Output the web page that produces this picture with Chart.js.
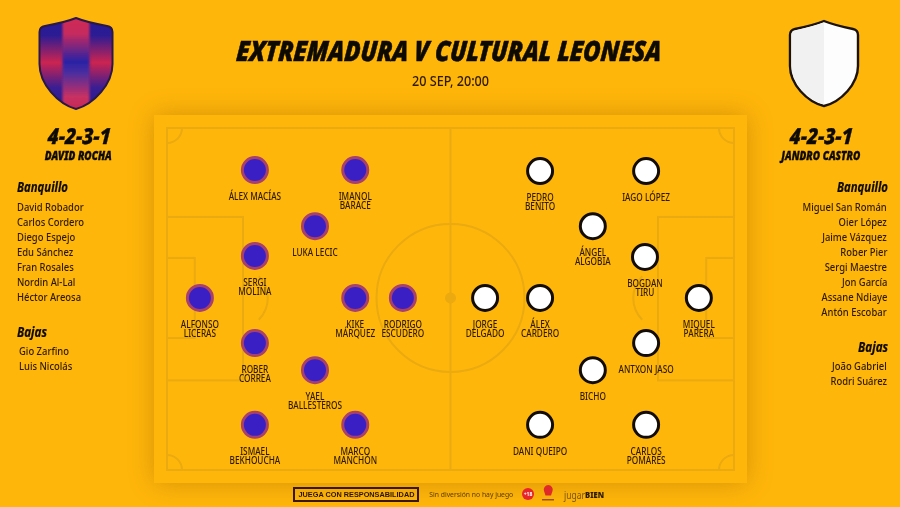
<!DOCTYPE html>
<html lang="es"><head><meta charset="utf-8">
<title>Extremadura v Cultural Leonesa</title>
<script src="https://cdn.jsdelivr.net/npm/chart.js@4"></script>
<style>
html,body{margin:0;padding:0;width:900px;height:507px;overflow:hidden;background:#ffb60a;font-family:"Noto Sans",sans-serif;color:#2e1a00}
#pitch{position:absolute;left:154px;top:115px;width:593px;height:368px;background:#ffb60a;box-shadow:0 0 24px rgba(120,70,0,.32)}
#c{position:absolute;left:0;top:0;width:900px;height:507px}
.t{position:absolute;white-space:nowrap;line-height:1}
.blk{color:#0d0a00;font-weight:900;font-style:italic;-webkit-text-stroke:.35px #0d0a00}
svg{position:absolute}
</style></head><body>
<div id="pitch"></div>
<svg width="900" height="507" style="left:0;top:0">
<defs>
<linearGradient id="side" gradientUnits="userSpaceOnUse" x1="0" y1="17" x2="0" y2="110"><stop offset="0" stop-color="#241a96"/><stop offset=".2" stop-color="#2c1c94"/><stop offset=".49" stop-color="#cc2450"/><stop offset=".76" stop-color="#3a1e92"/><stop offset="1" stop-color="#241a96"/></linearGradient>
<linearGradient id="mid" gradientUnits="userSpaceOnUse" x1="0" y1="17" x2="0" y2="110"><stop offset="0" stop-color="#d02a55"/><stop offset=".18" stop-color="#c62a5e"/><stop offset=".48" stop-color="#2a22a5"/><stop offset=".6" stop-color="#4a2ea0"/><stop offset=".86" stop-color="#c83062"/><stop offset="1" stop-color="#c82a55"/></linearGradient>
<filter id="soft" x="-20%" y="-5%" width="140%" height="110%"><feGaussianBlur stdDeviation="1.1 0"/></filter>
<clipPath id="sh"><path d="M76 18 C86 22 96 24 107 26 Q112.5 27 112.5 32 L112.5 64 C112.5 84 94 104 76 109 C58 104 39.5 84 39.5 64 L39.5 32 Q39.5 27 45 26 C56 24 66 22 76 18Z"/></clipPath>
</defs>
<g clip-path="url(#sh)"><rect x="36" y="14" width="80" height="98" fill="url(#side)"/><rect x="62.5" y="10" width="27" height="106" fill="url(#mid)" filter="url(#soft)"/></g>
<path d="M76 18 C86 22 96 24 107 26 Q112.5 27 112.5 32 L112.5 64 C112.5 84 94 104 76 109 C58 104 39.5 84 39.5 64 L39.5 32 Q39.5 27 45 26 C56 24 66 22 76 18Z" fill="none" stroke="#2a1848" stroke-width="2"/>
<path d="M824 21 C834 25 843 27 853 29 Q858 30 858 35 L858 66 C858 84 841 102 824 106 C807 102 790 84 790 66 L790 35 Q790 30 795 29 C805 27 814 25 824 21Z" fill="#fdfdfd" stroke="#1c1208" stroke-width="2.4"/>
<path d="M824 22.5 C814 26 805 28 795 30.5 Q791.5 31 791.5 35 L791.5 66 C791.5 83 808 100 824 104.5Z" fill="#f1f1f1"/>
<circle cx="528" cy="494" r="6" fill="#e8232a"/>
<path d="M544 491 a4.5 4.5 0 1 1 8.5 0 l-1.5 4.5 h-5.5 z" fill="#e02a2a"/><rect x="542" y="499" width="12" height="1.5" fill="#a05020"/>
</svg>
<canvas id="c" width="900" height="507"></canvas>
<div id="texts"></div>
<script>
const homeNames=["ÁLEX MACÍAS","IMANOL\nBARACE","LUKA LECIC","SERGI\nMOLINA","ALFONSO\nLICERAS","KIKE\nMÁRQUEZ","RODRIGO\nESCUDERO","ROBER\nCORREA","YAEL\nBALLESTEROS","ISMAEL\nBEKHOUCHA","MARCO\nMANCHÓN"];
const homeX=[15.5,33.2,26.1,15.5,5.8,33.2,41.6,15.5,26.1,15.5,33.2];
const homeY=[12.3,12.3,28.7,37.4,49.7,49.7,49.7,62.9,70.8,86.8,86.8];
const awayNames=["PEDRO\nBENITO","IAGO LÓPEZ","ÁNGEL\nALGOBIA","BOGDAN\nTIRU","MIQUEL\nPARERA","JORGE\nDELGADO","ÁLEX\nCARDERO","ANTXON JASO","BICHO","DANI QUEIPO","CARLOS\nPOMARES"];
const awayX=[65.8,84.5,75.1,84.3,93.8,56.1,65.8,84.5,75.1,65.8,84.5];
const awayY=[12.6,12.6,28.7,37.7,49.7,49.7,49.7,62.9,70.8,86.8,86.8];
const homeBench=["David Robador","Carlos Cordero","Diego Espejo","Edu Sánchez","Fran Rosales","Nordin Al-Lal","Héctor Areosa"];
const homeOut=["Gio Zarfino","Luis Nicolás"];
const awayBench=["Miguel San Román","Oier López","Jaime Vázquez","Rober Pier","Sergi Maestre","Jon García","Assane Ndiaye","Antón Escobar"];
const awayOut=["João Gabriel","Rodri Suárez"];

const pitchColor="#eaaa10";
const pitchPlugin={id:"pitch",beforeDatasetsDraw(ch){
  const c=ch.ctx,X=ch.scales.x,Y=ch.scales.y;
  const px=v=>X.getPixelForValue(v),py=v=>Y.getPixelForValue(v);
  c.save();c.strokeStyle=pitchColor;c.lineWidth=2;
  const box=(x0,y0,x1,y1)=>c.strokeRect(px(x0),py(y0),px(x1)-px(x0),py(y1)-py(y0));
  box(0,0,100,100);
  box(0,26,13.4,73.8);box(86.6,26,100,73.8);
  box(0,38,4.9,61.4);box(95.1,38,100,61.4);
  c.beginPath();c.moveTo(px(50),py(0));c.lineTo(px(50),py(100));c.stroke();
  const cy=py(49.7);
  c.beginPath();c.arc(px(50),cy,74,0,Math.PI*2);c.stroke();
  c.fillStyle=pitchColor;c.beginPath();c.arc(px(50),cy,5.5,0,Math.PI*2);c.fill();
  c.beginPath();c.arc(px(12.3),cy,31,-0.78,0.78);c.stroke();
  c.beginPath();c.arc(px(87.7),cy,31,Math.PI-0.78,Math.PI+0.78);c.stroke();
  [[0,0,0],[100,0,Math.PI/2],[100,100,Math.PI],[0,100,-Math.PI/2]].forEach(a=>{
    c.beginPath();c.arc(px(a[0]),py(a[1]),15,a[2],a[2]+Math.PI/2);c.stroke();});
  c.restore();
}};
const labelPlugin={id:"names",afterDatasetsDraw(ch){
  const c=ch.ctx;c.save();c.textAlign="center";c.textBaseline="middle";c.fillStyle="#2e1a00";
  c.font='500 11px "Noto Sans"';
  ch.data.datasets.forEach((ds,i)=>{ch.getDatasetMeta(i).data.forEach((el,j)=>{
    ds.names[j].split("\n").forEach((ln,k)=>{
      c.save();c.translate(el.x,el.y+27+k*9);c.scale(.75,1);c.fillText(ln,0,0);c.restore();
    });
  });});
  c.restore();
}};
const pts=(xs,ys)=>xs.map((x,i)=>({x,y:ys[i]}));
new Chart(document.getElementById("c"),{type:"scatter",
  data:{datasets:[
    {label:"Extremadura",names:homeNames,data:pts(homeX,homeY),backgroundColor:"#3a20c4",borderColor:"#a8406a",borderWidth:3,pointRadius:12.5,pointHoverRadius:12.5},
    {label:"Cultural Leonesa",names:awayNames,data:pts(awayX,awayY),backgroundColor:"#ffffff",borderColor:"#120c04",borderWidth:3,pointRadius:12.5,pointHoverRadius:12.5}
  ]},
  options:{responsive:false,animation:false,devicePixelRatio:1,clip:false,
    layout:{padding:{left:167,right:166,top:128,bottom:37}},
    plugins:{legend:{display:false},tooltip:{enabled:false}},
    scales:{x:{type:"linear",min:0,max:100,display:false},y:{type:"linear",min:0,max:100,reverse:true,display:false}}},
  plugins:[pitchPlugin,labelPlugin]});

const host=document.getElementById("texts");
function put(txt,o){
  const d=document.createElement("div");d.className="t "+(o.cls||"");d.textContent=txt;
  d.style.cssText=`font-size:${o.size}px;left:0;top:0;`+(o.css||"");
  host.appendChild(d);
  const r=d.getBoundingClientRect(),w=r.width,h=r.height;
  const k=o.w?o.w/w:(o.k||1);
  d.style.top=(o.y-h/2)+"px";
  const left=o.a==="l"?o.x:o.a==="r"?o.x-w:o.x-w/2;
  d.style.left=left+"px";
  d.style.transformOrigin=o.a==="l"?"left center":o.a==="r"?"right center":"center center";
  d.style.transform=`scaleX(${k})`+(o.skew?` skewX(${o.skew}deg)`:"");
}
const listK=.82;
const heading="font-weight:700;-webkit-text-stroke:.2px #0d0a00";
const item="font-weight:500";
put("EXTREMADURA V CULTURAL LEONESA",{a:"m",x:449.5,y:50,size:28,w:425,cls:"blk",skew:-5,css:"-webkit-text-stroke:.55px #0d0a00"});
put("20 SEP, 20:00",{a:"m",x:450.5,y:81,size:14,w:77,css:"font-weight:500"});
put("4-2-3-1",{a:"m",x:79,y:135,size:22,w:63,cls:"blk",skew:-4});
put("DAVID ROCHA",{a:"m",x:78.5,y:156,size:12,w:67,cls:"blk"});
put("4-2-3-1",{a:"m",x:821,y:135,size:22,w:63,cls:"blk",skew:-4});
put("JANDRO CASTRO",{a:"m",x:820.5,y:156,size:12,w:79,cls:"blk"});
const row=15;
put("Banquillo",{a:"l",x:17,y:187,size:14,w:51,cls:"blk",css:heading});
homeBench.forEach((n,i)=>put(n,{a:"l",x:17,y:206.5+i*row,size:11.5,k:listK,css:item}));
put("Bajas",{a:"l",x:17,y:332,size:14,w:30,cls:"blk",css:heading});
homeOut.forEach((n,i)=>put(n,{a:"l",x:19,y:350.5+i*row,size:11.5,k:listK,css:item}));
put("Banquillo",{a:"r",x:888,y:187,size:14,w:51,cls:"blk",css:heading});
awayBench.forEach((n,i)=>put(n,{a:"r",x:887,y:206.5+i*row,size:11.5,k:listK,css:item}));
put("Bajas",{a:"r",x:888,y:347,size:14,w:30,cls:"blk",css:heading});
awayOut.forEach((n,i)=>put(n,{a:"r",x:887,y:365.5+i*row,size:11.5,k:listK,css:item}));
put("JUEGA CON RESPONSABILIDAD",{a:"m",x:356,y:494.5,size:7.5,w:116,css:'font-family:"Liberation Sans";font-weight:700;color:#2a1400'});
put("Sin diversión no hay juego",{a:"m",x:471,y:494,size:7,w:84,css:'color:#5a3a00'});
put("+18",{a:"m",x:528,y:494,size:5,css:'color:#fff;font-weight:700'});
put("jugar",{a:"l",x:564,y:495,size:10,w:21,css:'color:#7a5510'});
put("BIEN",{a:"l",x:585,y:495,size:8,w:19,css:'color:#2a1a00;font-weight:900'});
const bx=document.createElement("div");bx.style.cssText="position:absolute;left:293px;top:487px;width:122px;height:11px;border:2px solid #3a1606";host.appendChild(bx);
</script>
</body></html>
